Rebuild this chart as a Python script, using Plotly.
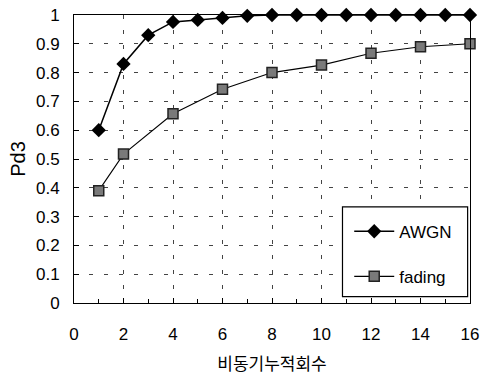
import plotly.graph_objects as go

awgn_x = [1, 2, 3, 4, 5, 6, 7, 8, 9, 10, 11, 12, 13, 14, 15, 16]
awgn_y = [0.60, 0.83, 0.93, 0.976, 0.983, 0.99, 0.997, 1.0, 1.0, 1.0, 1.0, 1.0, 1.0, 1.0, 1.0, 1.0]
fading_x = [1, 2, 4, 6, 8, 10, 12, 14, 16]
fading_y = [0.39, 0.517, 0.657, 0.742, 0.80, 0.826, 0.867, 0.89, 0.90]
x_ticks = [0, 2, 4, 6, 8, 10, 12, 14, 16]
y_ticks = [0, 0.1, 0.2, 0.3, 0.4, 0.5, 0.6, 0.7, 0.8, 0.9, 1]

fig = go.Figure()
fig.add_trace(go.Scatter(
    x=awgn_x, y=awgn_y, name="AWGN", mode="lines+markers", legendgroup="a",
    line=dict(color="black", width=1.5),
    marker=dict(symbol="diamond", size=11, color="black"),
    cliponaxis=False,
))
fig.add_trace(go.Scatter(
    x=fading_x, y=fading_y, name="fading", mode="lines+markers", legendgroup="b",
    line=dict(color="black", width=1.1),
    marker=dict(symbol="square", size=10, color="#7a7a7a", line=dict(color="#222", width=1.5)),
    cliponaxis=False,
))

font_main = "Liberation Sans, Arial, sans-serif"

fig.update_layout(
    width=489, height=376,
    margin=dict(l=74, r=19, t=15, b=73),
    paper_bgcolor="white", plot_bgcolor="white",
    font=dict(family=font_main, size=17, color="black"),
    showlegend=True,
    legend=dict(
        x=0.695, y=0.31, xanchor="left", yanchor="top",
        bgcolor="rgba(0,0,0,0)", borderwidth=0, traceorder="grouped",
        font=dict(size=17), itemwidth=40, tracegroupgap=20,
    ),
    xaxis=dict(
        range=[0, 16], tickvals=x_ticks, ticktext=[str(v) for v in x_ticks],
        showgrid=True, gridcolor="#444", gridwidth=1, griddash="4px,11px",
        showline=True, linecolor="black", linewidth=1, mirror=True,
        ticks="inside", ticklen=5, tickcolor="black",
        minor=dict(dtick=1, tick0=0, ticks="inside", ticklen=4, tickcolor="black", showgrid=False),
        ticklabelstandoff=16, zeroline=False, automargin=False,
        title=dict(text="비동기누적회수", font=dict(family="Noto Sans CJK KR", size=17), standoff=14),
    ),
    yaxis=dict(
        range=[0, 1], tickvals=y_ticks, ticktext=["0", "0.1", "0.2", "0.3", "0.4", "0.5", "0.6", "0.7", "0.8", "0.9", "1"],
        showgrid=True, gridcolor="#444", gridwidth=1, griddash="4px,11px",
        showline=True, linecolor="black", linewidth=1, mirror=True,
        ticks="inside", ticklen=5, tickcolor="black",
        ticklabelstandoff=10, zeroline=False, automargin=False,
        title=dict(text="Pd3", standoff=4),
    ),
    shapes=[dict(
        type="rect", xref="paper", yref="paper",
        x0=0.678, x1=0.994, y0=0.022, y1=0.334,
        line=dict(color="black", width=1.2), fillcolor="white", layer="above",
    )],
)

fig.write_html("out.html")
